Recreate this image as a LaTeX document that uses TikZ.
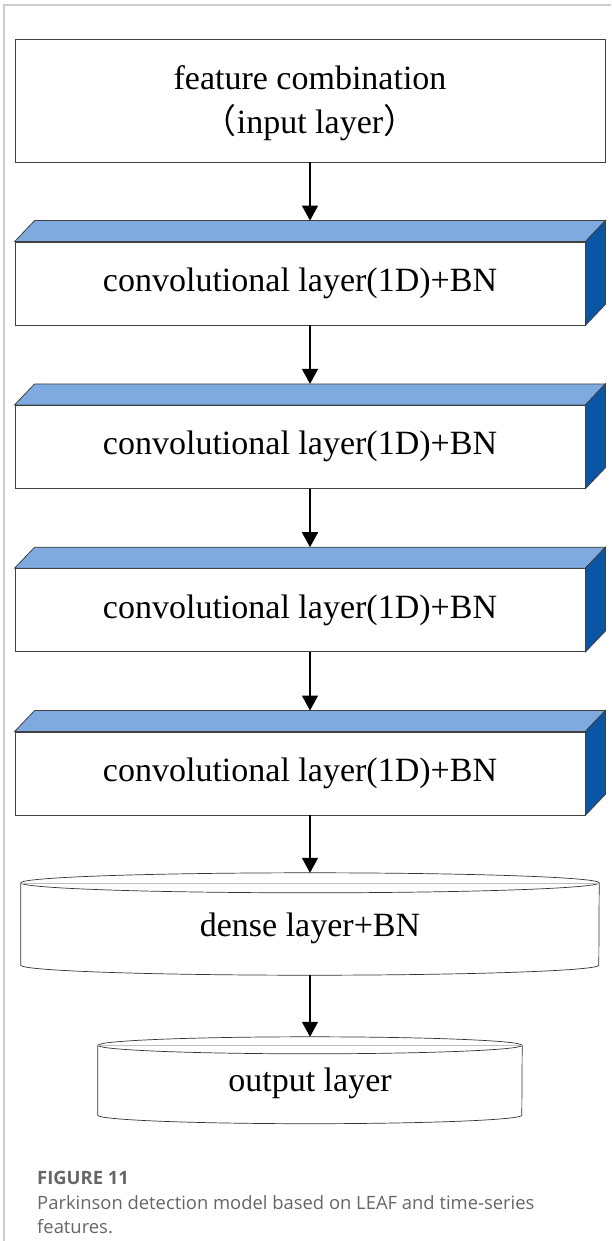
\documentclass[tikz,border=0pt]{standalone}
\usepackage{fontspec}
\setmainfont{Liberation Serif}
\newfontfamily\cjk{Noto Sans CJK SC}
\newfontfamily\capfont{Open Sans}
\usepackage{xcolor}
\usetikzlibrary{calc,arrows.meta}
\definecolor{topblue}{RGB}{127,170,223}
\definecolor{sideblue}{RGB}{10,86,165}
\definecolor{capgray}{RGB}{102,102,102}
\definecolor{framegray}{RGB}{205,205,205}
\tikzset{
  layertxt/.style={font=\fontsize{34}{42}\selectfont, align=center},
  inbox/.style={rectangle, draw=black!75, line width=0.8pt, minimum width=590pt,
                minimum height=123pt, inner sep=0pt, layertxt},
  convbox/.style={rectangle, draw=black!75, line width=0.8pt, fill=white,
                  minimum width=570pt, minimum height=83pt, inner sep=0pt, layertxt},
  diskbox/.style={rectangle, inner sep=0pt, layertxt},
  facetop/.style={draw=black!75, line width=0.8pt, fill=topblue},
  faceside/.style={draw=black!75, line width=0.8pt, fill=sideblue},
  diskline/.style={draw=black!80, line width=0.7pt, fill=white},
  flow/.style={line width=1.6pt, -{Triangle[length=15pt,width=16pt]}},
  captxt/.style={font=\capfont\fontsize{18.4}{24}\selectfont, text=capgray,
                 anchor=base west, inner sep=0pt}
}
\begin{document}
\begin{tikzpicture}[x=1pt, y=-1pt]
  \useasboundingbox (0,0) rectangle (611,1241);
  \draw[framegray, line width=1.5pt] (611,5) -- (4,5) -- (4,1241);

  \node[inbox] (inp) at (310,100.5) {};
  \node[layertxt] (inptxt) at (310,103) {feature combination\\[2pt]{\cjk （}input layer{\cjk ）}};

  \foreach \k/\y in {1/283.5, 2/446.8, 3/610.1, 4/773.4} {
    \node[convbox] (c\k) at (300,\y) {convolutional layer(1D)+BN};
    \draw[facetop] (c\k.north west) -- ++(20,-21) -- ($(c\k.north east)+(20,-21)$)
      -- (c\k.north east) -- cycle;
    \draw[faceside] (c\k.north east) -- ++(20,-21) -- ($(c\k.south east)+(20,-21)$)
      -- (c\k.south east) -- cycle;
    \coordinate (c\k in) at ($(c\k.north)+(10,-21)$);
    \coordinate (c\k out) at ($(c\k.south)+(10,0)$);
  }

  \node[diskbox, minimum width=578pt, minimum height=102pt] (dense) at (310,924) {};
  \draw[diskline] ($(dense.north west)+(0,10)$) -- ($(dense.south west)+(0,-10)$)
    arc[start angle=180, end angle=360, x radius=289pt, y radius=10pt]
    -- ($(dense.north east)+(0,10)$);
  \draw[diskline] ($(dense.north)+(0,10)$) ellipse[x radius=289pt, y radius=10pt];
  \draw[black!25, line width=0.5pt] ($(dense.north west)+(0,10)$) -- ($(dense.north east)+(0,10)$);
  \node[layertxt] (densetxt) at (310,928) {dense layer+BN};

  \node[diskbox, minimum width=424pt, minimum height=86.5pt] (outp) at (310,1080.25) {};
  \draw[diskline] ($(outp.north west)+(0,8.5)$) -- ($(outp.south west)+(0,-8.5)$)
    arc[start angle=180, end angle=360, x radius=212pt, y radius=8.5pt]
    -- ($(outp.north east)+(0,8.5)$);
  \draw[diskline] ($(outp.north)+(0,8.5)$) ellipse[x radius=212pt, y radius=8.5pt];
  \draw[black!25, line width=0.5pt] ($(outp.north west)+(0,8.5)$) -- ($(outp.north east)+(0,8.5)$);
  \node[layertxt] (outtxt) at (310,1083) {output layer};

  \draw[flow] (inp.south) -- (c1in);
  \draw[flow] (c1out) -- (c2in);
  \draw[flow] (c2out) -- (c3in);
  \draw[flow] (c3out) -- (c4in);
  \draw[flow] (c4out) -- (dense.north);
  \draw[flow] (dense.south) -- (outp.north);

  \node[captxt, font=\capfont\bfseries\fontsize{18.4}{24}\selectfont] (fig) at (37,1184) {FIGURE 11};
  \node[captxt] (cap1) at (37,1209) {Parkinson detection model based on LEAF and time-series};
  \node[captxt] (cap2) at (37,1233) {features.};
\end{tikzpicture}
\end{document}
